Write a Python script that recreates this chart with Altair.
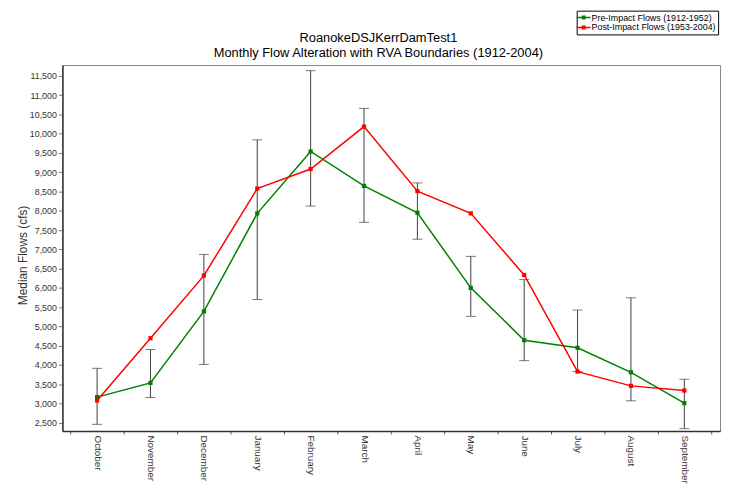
import json
import altair as alt
import pandas as pd

months = ["October", "November", "December", "January", "February", "March",
          "April", "May", "June", "July", "August", "September"]
series_names = ["Pre-Impact Flows (1912-1952)", "Post-Impact Flows (1953-2004)"]
series_colors = ["#008000", "#FF0000"]
pre_impact = [3163, 3532, 5389, 7933, 9540, 8646, 7950, 5999, 4641, 4444, 3808, 3009]
post_impact = [3077, 4692, 6317, 8578, 9085, 10185, 8509, 7933, 6334, 3826, 3455, 3335]
rva_high = [3911, 4400, 6867, 9841, 11638, 10658, 8724, 6817, 6214, 5424, 5741, 3627]
rva_low = [2457, 3154, 4013, 5698, 8122, 7701, 7262, 5260, 4110, 3826, 3068, 2346]
y_ticks = [2500, 3000, 3500, 4000, 4500, 5000, 5500, 6000, 6500, 7000, 7500,
           8000, 8500, 9000, 9500, 10000, 10500, 11000, 11500]

FONT = "Liberation Sans, Arial, sans-serif"

rows = []
for name, vals in zip(series_names, [pre_impact, post_impact]):
    for i, (m, v) in enumerate(zip(months, vals)):
        rows.append({"idx": i, "month": m, "series": name, "flow": v})
df = pd.DataFrame(rows)
bars = pd.DataFrame({"idx": list(range(len(months))), "month": months,
                     "low": rva_low, "high": rva_high})

x_values = [i / 2 - 0.5 for i in range(2 * len(months) + 1)]
label_expr = ("datum.value % 1 === 0 ? " + json.dumps(months).replace('"', "'")
              + "[datum.value] : ''")

x_scale = alt.Scale(domain=[-0.65, 11.67], nice=False, zero=False)
y_scale = alt.Scale(domain=[2284, 11783], nice=False, zero=False)

x_axis = alt.Axis(
    values=x_values, labelExpr=label_expr, title=None, grid=False,
    labelAngle=90, labelAlign="left", labelBaseline="middle",
    labelFontSize=10, labelFont=FONT, labelColor="#333333",
    labelOverlap=False, labelFlush=False, labelPadding=1,
    tickSize=3, tickColor="#555555",
    tickOpacity={"condition": {"test": "datum.value % 1 === 0", "value": 0}, "value": 1},
    domainColor="#333333", domainWidth=1.5,
)
y_axis = alt.Axis(
    values=y_ticks, format=",.0f", title="Median Flows (cfs)", grid=False,
    labelFontSize=9, labelFont=FONT, labelColor="#333333", labelPadding=2,
    tickSize=4, tickColor="#777777",
    titleFont=FONT, titleFontSize=12, titleFontWeight="normal", titleColor="#333333",
    titleX=-33, titleY=192,
    domainColor="#333333", domainWidth=1.5,
)

color_scale = alt.Scale(domain=series_names, range=series_colors)
legend = alt.Legend(
    title=None, orient="none", legendX=520, legendY=-55,
    strokeColor="#000000", fillColor="#ffffff", padding=2,
    labelFont=FONT, labelFontSize=9, labelColor="#000000", labelLimit=300,
    labelOffset=3, rowPadding=0,
    symbolType="M-1.4,-0.15H1.4V0.15H-1.4Z M-0.4,-0.4H0.4V0.4H-0.4Z",
    symbolSize=100, symbolStrokeWidth=0,
)

base_x = alt.X("idx:Q", scale=x_scale, axis=x_axis)

err_rule = alt.Chart(bars).mark_rule(color="#404040", strokeWidth=1).encode(
    x=base_x,
    y=alt.Y("low:Q", scale=y_scale, axis=y_axis),
    y2="high:Q",
)
cap_low = alt.Chart(bars).mark_tick(color="#404040", orient="horizontal", size=10, thickness=1).encode(
    x=base_x, y=alt.Y("low:Q", scale=y_scale, axis=y_axis)
)
cap_high = alt.Chart(bars).mark_tick(color="#404040", orient="horizontal", size=10, thickness=1).encode(
    x=base_x, y=alt.Y("high:Q", scale=y_scale, axis=y_axis)
)
lines = alt.Chart(df).mark_line(strokeWidth=1.5).encode(
    x=base_x,
    y=alt.Y("flow:Q", scale=y_scale, axis=y_axis),
    color=alt.Color("series:N", scale=color_scale, legend=legend, sort=series_names),
    detail="series:N",
)
points = alt.Chart(df).mark_point(shape="square", filled=True, size=18, opacity=1).encode(
    x=base_x,
    y=alt.Y("flow:Q", scale=y_scale, axis=y_axis),
    color=alt.Color("series:N", scale=color_scale, legend=legend, sort=series_names),
)

chart = alt.layer(err_rule, cap_low, cap_high, lines, points).properties(
    width=665, height=370,
    autosize=alt.AutoSizeParams(type="none"),
    padding={"left": 55, "top": 55, "right": 9, "bottom": 60},
    background="#ffffff",
    title=alt.TitleParams(
        ["RoanokeDSJKerrDamTest1", "Monthly Flow Alteration with RVA Boundaries (1912-2004)"],
        font=FONT, fontSize=13, fontWeight="normal", color="#000000",
        anchor="middle", frame="group", dx=-13, dy=55, offset=5, lineHeight=15,
    ),
).configure_view(stroke="#808080", strokeWidth=1)

chart.save("out.html", embed_options={"renderer": "svg", "actions": False})
